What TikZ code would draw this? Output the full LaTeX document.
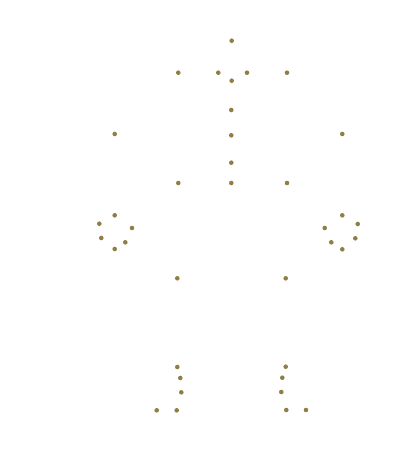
\documentclass[tikz,border=0pt]{standalone}
\definecolor{dotc}{HTML}{8F7F45}
\begin{document}
\begin{tikzpicture}[x=1pt,y=-1pt,
  dot/.style={circle,fill=dotc,draw=none,inner sep=0pt,minimum size=4.6pt}]
\useasboundingbox (0,0) rectangle (400,464);
% head
\node[dot] (h1) at (231.7,40.7) {};
\node[dot] (h2) at (178.3,72.7) {};
\node[dot] (h3) at (218.3,72.7) {};
\node[dot] (h4) at (247,72.7) {};
\node[dot] (h5) at (287,72.7) {};
\node[dot] (h6) at (231.7,80.7) {};
% torso
\node[dot] (t1) at (231.3,110) {};
\node[dot] (t2) at (114.7,134) {};
\node[dot] (t3) at (231.3,135.3) {};
\node[dot] (t4) at (342.3,134) {};
\node[dot] (t5) at (231.3,162.7) {};
\node[dot] (t6) at (178.3,183) {};
\node[dot] (t7) at (231.3,183) {};
\node[dot] (t8) at (287,183) {};
% left hand
\node[dot] (l1) at (114.7,215.3) {};
\node[dot] (l2) at (99.3,223.7) {};
\node[dot] (l3) at (132,228) {};
\node[dot] (l4) at (101.3,238) {};
\node[dot] (l5) at (125.3,242.3) {};
\node[dot] (l6) at (114.7,249) {};
% right hand
\node[dot] (r1) at (342.3,215.3) {};
\node[dot] (r2) at (357.7,224) {};
\node[dot] (r3) at (324.7,228) {};
\node[dot] (r4) at (355.3,238.3) {};
\node[dot] (r5) at (331.3,242.3) {};
\node[dot] (r6) at (342.3,249.3) {};
% knees
\node[dot] (k1) at (177.3,278.3) {};
\node[dot] (k2) at (285.7,278.3) {};
% left leg
\node[dot] (a1) at (177.3,367) {};
\node[dot] (a2) at (180.3,378) {};
\node[dot] (a3) at (181.3,392.3) {};
\node[dot] (a4) at (156.7,410.3) {};
\node[dot] (a5) at (176.7,410.3) {};
% right leg
\node[dot] (b1) at (285.7,366.7) {};
\node[dot] (b2) at (282.3,377.7) {};
\node[dot] (b3) at (281.3,392) {};
\node[dot] (b4) at (286.3,410) {};
\node[dot] (b5) at (306,410) {};
\end{tikzpicture}
\end{document}
